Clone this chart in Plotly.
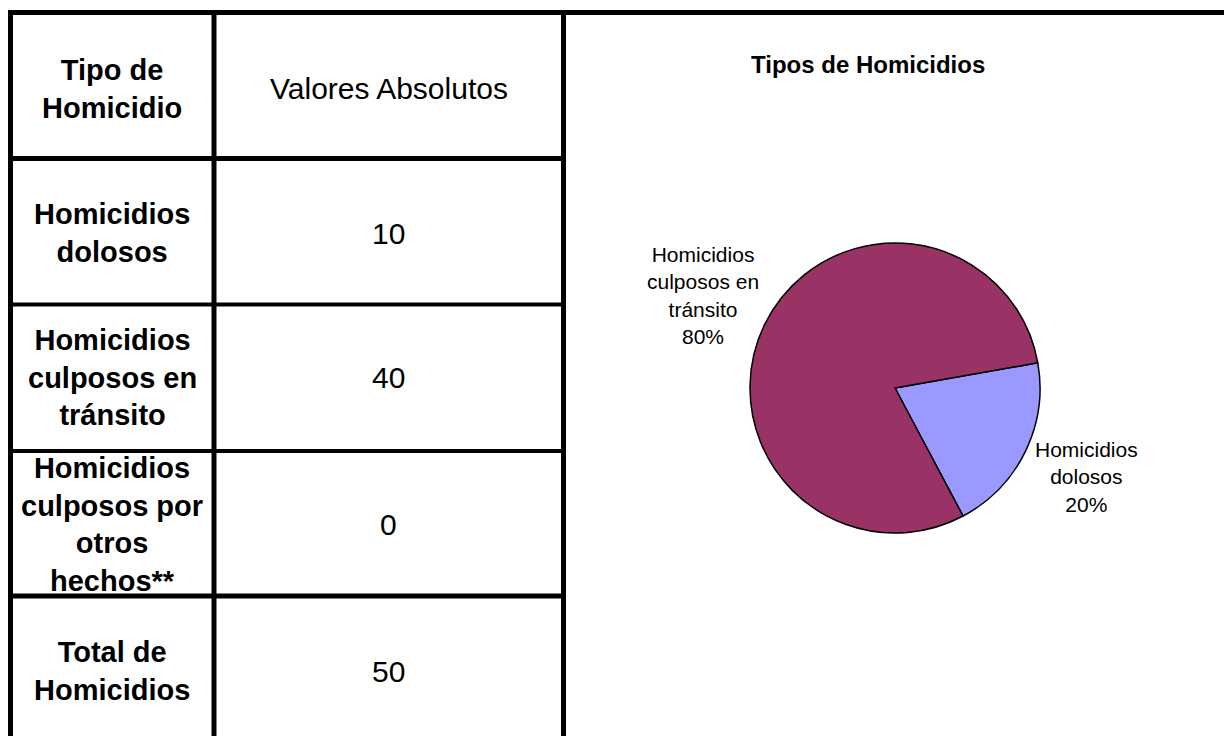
import textwrap
import plotly.graph_objects as go

# ---------------- data ----------------
header = ["Tipo de Homicidio", "Valores Absolutos"]
categories = [
    "Homicidios dolosos",
    "Homicidios culposos en tránsito",
    "Homicidios culposos por otros hechos**",
]
values = [10, 40, 0]
total_label = "Total de Homicidios"
chart_title = "Tipos de Homicidios"
slice_colors = ["#9999FF", "#993366", "#FFFFCC"]

total = sum(values)

# ---------------- layout helpers ----------------
W, H = 1224, 736
FONT = "Liberation Sans, Arial, Helvetica, sans-serif"


def fx(x):
    return x / W


def fy(y):
    return 1 - y / H


def wrap(s, n):
    return "<br>".join(textwrap.wrap(s, n))


fig = go.Figure()

# ---------------- pie ----------------
pie_labels = [c for c, v in zip(categories, values) if v > 0]
pie_values = [v for v in values if v > 0]
pie_colors = [col for col, v in zip(slice_colors, values) if v > 0]

cx, cy, r = 895, 388, 145
fig.add_trace(go.Pie(
    labels=pie_labels,
    values=pie_values,
    sort=False,
    direction="clockwise",
    rotation=80,
    marker=dict(colors=pie_colors, line=dict(color="black", width=1.5)),
    textinfo="none",
    hoverinfo="label+value+percent",
    showlegend=False,
    domain=dict(x=[fx(cx - r), fx(cx + r)], y=[fy(cy + r), fy(cy - r)]),
))

shapes = []
annotations = []

# ---------------- table grid ----------------
col_x = [10.5, 214, 563.5]
row_y = [12.5, 158.5, 304.5, 451, 596, 742]

# top border across the full width
shapes.append(dict(type="line", xref="paper", yref="paper",
                   x0=fx(8), x1=fx(W), y0=fy(row_y[0]), y1=fy(row_y[0]),
                   line=dict(color="black", width=5)))
for x in col_x:
    shapes.append(dict(type="line", xref="paper", yref="paper",
                       x0=fx(x), x1=fx(x), y0=fy(10), y1=fy(H + 5),
                       line=dict(color="black", width=5)))
row_widths = [5, 4, 4, 5]
for y, w in zip(row_y[1:5], row_widths):
    shapes.append(dict(type="line", xref="paper", yref="paper",
                       x0=fx(8), x1=fx(566), y0=fy(y), y1=fy(y),
                       line=dict(color="black", width=w)))

col_centers = [(col_x[0] + col_x[1]) / 2, (col_x[1] + col_x[2]) / 2]
row_centers = [(row_y[i] + row_y[i + 1]) / 2 for i in range(5)]
row_text_shift = [3, 2, 0, 1, 2]

first_col = [header[0]] + categories + [total_label]
second_col = [header[1]] + [str(v) for v in values] + [str(total)]

for i, (a, b) in enumerate(zip(first_col, second_col)):
    yc = row_centers[i] + row_text_shift[i]
    annotations.append(dict(
        x=fx(col_centers[0]), y=fy(yc), xref="paper", yref="paper",
        text=wrap(a, 12), showarrow=False, xanchor="center", yanchor="middle",
        align="center", font=dict(family=FONT, size=29, color="black", weight="bold"),
    ))
    annotations.append(dict(
        x=fx(col_centers[1]), y=fy(yc), xref="paper", yref="paper",
        text=b, showarrow=False, xanchor="center", yanchor="middle",
        align="center", font=dict(family=FONT, size=30, color="black"),
    ))

# ---------------- chart title ----------------
annotations.append(dict(
    x=fx(868), y=fy(65), xref="paper", yref="paper", text=chart_title,
    showarrow=False, xanchor="center", yanchor="middle",
    font=dict(family=FONT, size=24, color="black", weight="bold"),
))

# ---------------- pie labels ----------------
label_pos = {pie_labels[0]: (1086, 477), pie_labels[1]: (703, 295)}
for lab, v in zip(pie_labels, pie_values):
    px_, py_ = label_pos[lab]
    annotations.append(dict(
        x=fx(px_), y=fy(py_), xref="paper", yref="paper",
        text=f"{wrap(lab, 11)}<br>{round(100 * v / total)}%",
        showarrow=False, xanchor="center", yanchor="middle", align="center",
        font=dict(family=FONT, size=21, color="black"),
    ))

fig.update_layout(
    width=W, height=H,
    margin=dict(l=0, r=0, t=0, b=0),
    paper_bgcolor="white", plot_bgcolor="white",
    shapes=shapes, annotations=annotations,
    showlegend=False,
)

fig.write_html(
    "out.html",
    config={"displayModeBar": False},
    post_script="document.body.style.margin='0';document.body.style.overflow='hidden';",
)
